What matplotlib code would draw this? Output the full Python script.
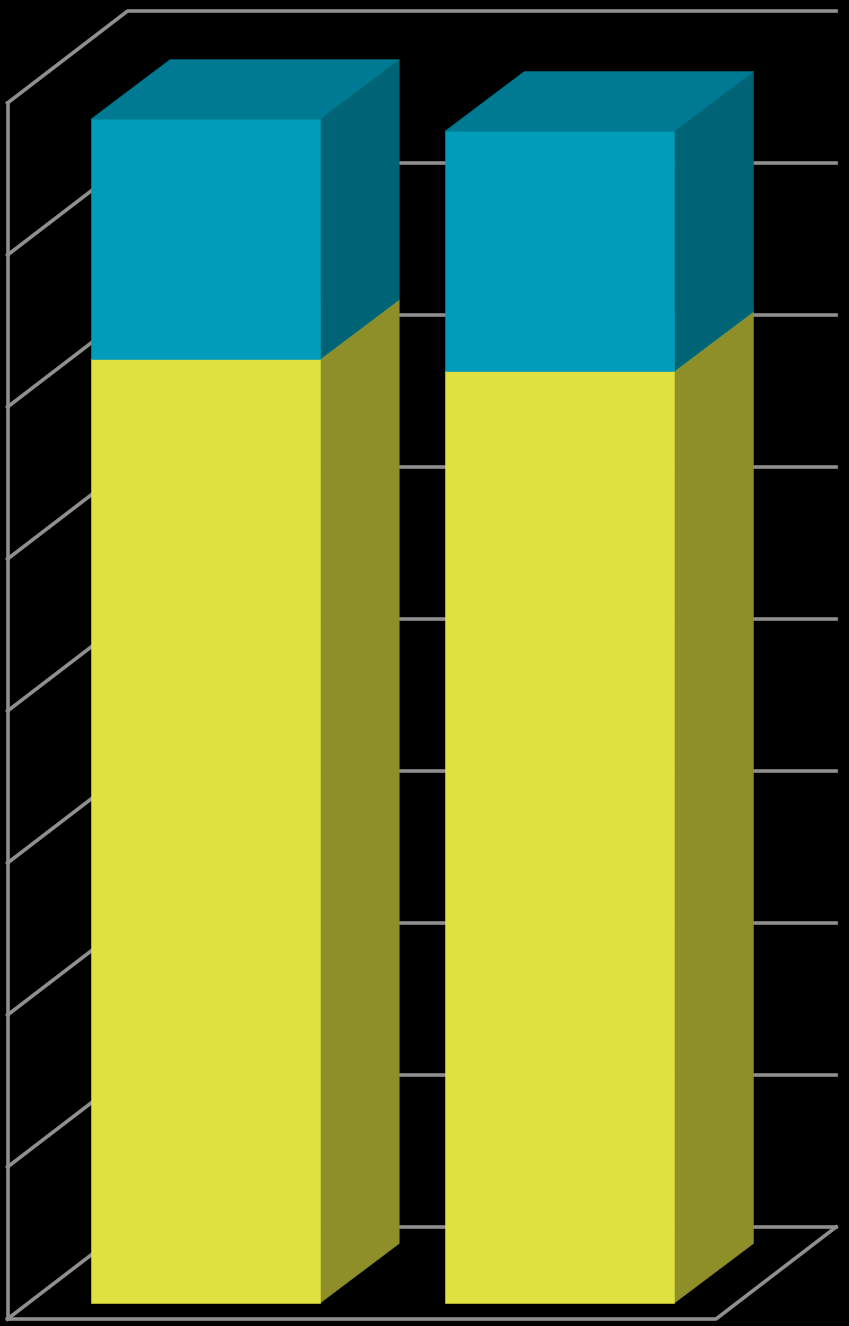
import numpy as np
import matplotlib
matplotlib.use('Agg')
import matplotlib.pyplot as plt

# valores (sin etiquetas en el original)
categorias = [0, 1]
amarillo = [77.6, 76.62]
azul = [19.75, 19.75]
ticks = np.arange(0, 100.1, 12.5)

# caja 3D oblicua, en unidades de datos
prof_x = 120 / 354
prof_y = 92 / 12.16
ancho = 0.647
prof_ini = 0.174
barra_dx = 79 / 354
barra_dy = 59.5 / 12.16

COL_GRID = '#8F8F8F'
COL_AMA = ('#E0E040', '#8F8F2A', '#E0E040')
COL_AZU = ('#009CBA', '#006476', '#007A92')

W, H = 849, 1326
fig = plt.figure(figsize=(W / 100, H / 100), dpi=100, facecolor='black')
ax = fig.add_axes([7.5 / W, (H - 1319) / H, 708.5 / W, 1216 / H])
ax.set_xlim(0, 2)
ax.set_ylim(0, 100)
ax.axis('off')


def linea(xs, ys):
    ax.plot(xs, ys, color=COL_GRID, lw=2.6, clip_on=False, zorder=1, solid_capstyle='projecting')


# paredes y suelo
for t in ticks:
    # lateral izquierdo + fondo
    linea([0, prof_x, 2 + prof_x], [t, t + prof_y, t + prof_y])
linea([0, 0], [0, 100])
linea([0, 2, 2 + prof_x], [0, 0, prof_y])


def cara(xs, ys, color, z):
    # el borde fino del mismo color tapa las juntas entre caras
    ax.fill(xs, ys, facecolor=color, edgecolor=color, lw=0.4, clip_on=False, zorder=z)


def bloque(centro, y0, y1, colores):
    frente, lado, tapa = colores
    x0 = centro + 0.5 - ancho / 2 + prof_ini * prof_x
    x1 = x0 + ancho
    base = prof_ini * prof_y
    y0, y1 = y0 + base, y1 + base
    cara([x1, x1 + barra_dx, x1 + barra_dx, x1], [y0, y0 + barra_dy, y1 + barra_dy, y1], lado, 3)
    cara([x0, x1, x1 + barra_dx, x0 + barra_dx], [y1, y1, y1 + barra_dy, y1 + barra_dy], tapa, 3)
    cara([x0, x1, x1, x0], [y0, y0, y1, y1], frente, 4)


# amarillo primero: el bloque azul tapa su cara superior
for c, a, b in zip(categorias, amarillo, azul):
    bloque(c, 0, a, COL_AMA)
    bloque(c, a, a + b, COL_AZU)

fig.savefig('out.png', dpi=100, facecolor='black')
